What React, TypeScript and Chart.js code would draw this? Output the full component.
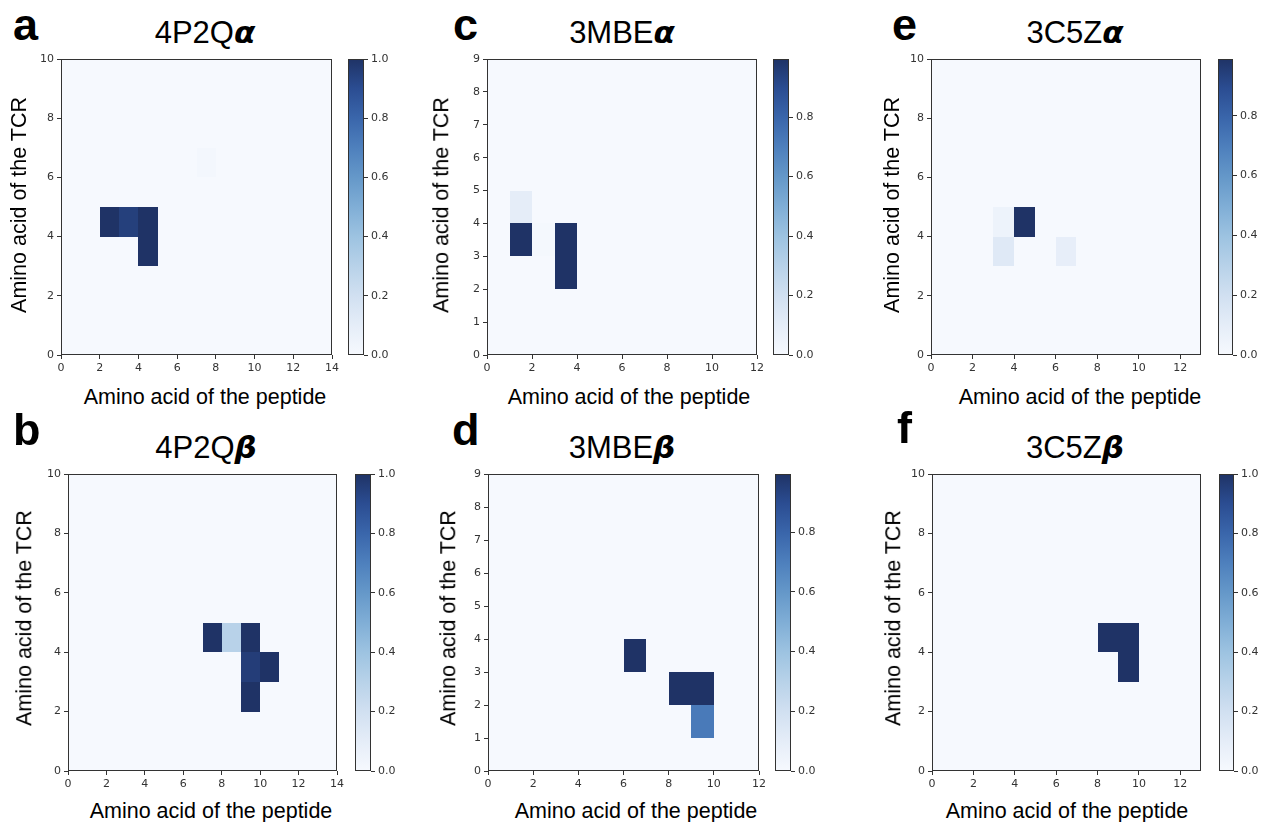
import React, { useEffect, useRef } from 'react';
import { Chart, registerables } from 'chart.js';

Chart.register(...registerables);

// Each cell: [peptide position, TCR position, contact weight]; every other cell is 0.
type Cell = [number, number, number];

const cells4P2QAlpha: Cell[] = [
  [2, 4, 1.0],
  [3, 4, 0.95],
  [4, 4, 1.0],
  [4, 3, 1.0],
  [7, 6, 0.015],
];
const cells4P2QBeta: Cell[] = [
  [7, 4, 1.0],
  [8, 4, 0.3],
  [9, 4, 1.0],
  [9, 3, 0.96],
  [10, 3, 1.0],
  [9, 2, 1.0],
];
const cells3MBEAlpha: Cell[] = [
  [1, 4, 0.1],
  [1, 3, 0.995],
  [2, 3, 0.01],
  [3, 3, 0.995],
  [3, 2, 0.995],
];
const cells3MBEBeta: Cell[] = [
  [6, 3, 0.995],
  [8, 2, 0.995],
  [9, 2, 0.995],
  [9, 1, 0.72],
];
const cells3C5ZAlpha: Cell[] = [
  [3, 4, 0.05],
  [4, 4, 0.99],
  [3, 3, 0.13],
  [6, 3, 0.09],
];
const cells3C5ZBeta: Cell[] = [
  [8, 4, 1.0],
  [9, 4, 1.0],
  [9, 3, 1.0],
];

// Peptide / TCR segment lengths (axis extents)
const peptideLen4P2Q = 14;
const tcrLen4P2Q = 10;
const peptideLen3MBE = 12;
const tcrLen3MBE = 9;
const peptideLen3C5Z = 13;
const tcrLen3C5Z = 10;

// Upper end of each colour bar (largest weight in the map)
const vmax4P2QAlpha = 1.0;
const vmax4P2QBeta = 1.0;
const vmax3MBEAlpha = 0.995;
const vmax3MBEBeta = 0.995;
const vmax3C5ZAlpha = 0.99;
const vmax3C5ZBeta = 1.0;

// Tick labels
const xTicksEven14 = [0, 2, 4, 6, 8, 10, 12, 14];
const xTicksEven12 = [0, 2, 4, 6, 8, 10, 12];
const yTicksEven10 = [0, 2, 4, 6, 8, 10];
const yTicksUnit9 = [0, 1, 2, 3, 4, 5, 6, 7, 8, 9];
const colorbarTicks = [0, 0.2, 0.4, 0.6, 0.8, 1.0];

const xAxisLabel = 'Amino acid of the peptide';
const yAxisLabel = 'Amino acid of the TCR';

// Sequential blue colour map
const CMAP: [number, string][] = [
  [0.0, '#f6f9fe'],
  [0.1, '#e5edf8'],
  [0.2, '#d1e0f1'],
  [0.3, '#b8d2e9'],
  [0.4, '#9dc3e1'],
  [0.5, '#80aed6'],
  [0.6, '#6598c9'],
  [0.7, '#4e80bd'],
  [0.8, '#3a66ab'],
  [0.9, '#2b4d92'],
  [1.0, '#1f3366'],
];

function hexToRgb(h: string): number[] {
  const n = parseInt(h.slice(1), 16);
  return [(n >> 16) & 255, (n >> 8) & 255, n & 255];
}

function cmap(t: number): string {
  const v = Math.max(0, Math.min(1, t));
  for (let i = 1; i < CMAP.length; i++) {
    const [p1, c1] = CMAP[i];
    const [p0, c0] = CMAP[i - 1];
    if (v <= p1) {
      const f = (v - p0) / (p1 - p0);
      const a = hexToRgb(c0);
      const b = hexToRgb(c1);
      const r = a.map((x, k) => Math.round(x + (b[k] - x) * f));
      return `rgb(${r[0]},${r[1]},${r[2]})`;
    }
  }
  return CMAP[CMAP.length - 1][1];
}

const AXIS_COLOR = '#333333';
const TICK_FONT = { family: 'DejaVu Sans', size: 11 };
const LABEL_FONT = '"Liberation Sans", Arial, Helvetica, sans-serif';

type Box = { l: number; t: number; r: number; b: number };

type PanelSpec = {
  letter: string;
  name: string;
  greek: string;
  cells: Cell[];
  nx: number;
  ny: number;
  xTicks: number[];
  yTicks: number[];
  vmax: number;
  plot: Box;
  cb: { l: number; r: number };
  letterPos: { x: number; base: number };
  titlePos: { cx: number; base: number };
  xLabelPos: { cx: number; base: number };
  yLabelPos: { cx: number; cy: number };
};

const PANELS: PanelSpec[] = [
  {
    letter: 'a', name: '4P2Q', greek: 'α', cells: cells4P2QAlpha,
    nx: peptideLen4P2Q, ny: tcrLen4P2Q, xTicks: xTicksEven14, yTicks: yTicksEven10, vmax: vmax4P2QAlpha,
    plot: { l: 61, t: 59, r: 332, b: 355 }, cb: { l: 348, r: 364 },
    letterPos: { x: 13, base: 40 }, titlePos: { cx: 205, base: 43 },
    xLabelPos: { cx: 205, base: 405 }, yLabelPos: { cx: 20, cy: 205 },
  },
  {
    letter: 'b', name: '4P2Q', greek: 'β', cells: cells4P2QBeta,
    nx: peptideLen4P2Q, ny: tcrLen4P2Q, xTicks: xTicksEven14, yTicks: yTicksEven10, vmax: vmax4P2QBeta,
    plot: { l: 68, t: 474, r: 337, b: 771 }, cb: { l: 355, r: 371 },
    letterPos: { x: 13, base: 445 }, titlePos: { cx: 206, base: 458 },
    xLabelPos: { cx: 211, base: 819 }, yLabelPos: { cx: 25, cy: 618 },
  },
  {
    letter: 'c', name: '3MBE', greek: 'α', cells: cells3MBEAlpha,
    nx: peptideLen3MBE, ny: tcrLen3MBE, xTicks: xTicksEven12, yTicks: yTicksUnit9, vmax: vmax3MBEAlpha,
    plot: { l: 487, t: 59, r: 757, b: 355 }, cb: { l: 773, r: 789 },
    letterPos: { x: 453, base: 40 }, titlePos: { cx: 622, base: 43 },
    xLabelPos: { cx: 629, base: 405 }, yLabelPos: { cx: 442, cy: 205 },
  },
  {
    letter: 'd', name: '3MBE', greek: 'β', cells: cells3MBEBeta,
    nx: peptideLen3MBE, ny: tcrLen3MBE, xTicks: xTicksEven12, yTicks: yTicksUnit9, vmax: vmax3MBEBeta,
    plot: { l: 488, t: 474, r: 759, b: 771 }, cb: { l: 775, r: 791 },
    letterPos: { x: 452, base: 445 }, titlePos: { cx: 622, base: 458 },
    xLabelPos: { cx: 636, base: 819 }, yLabelPos: { cx: 449, cy: 618 },
  },
  {
    letter: 'e', name: '3C5Z', greek: 'α', cells: cells3C5ZAlpha,
    nx: peptideLen3C5Z, ny: tcrLen3C5Z, xTicks: xTicksEven12, yTicks: yTicksEven10, vmax: vmax3C5ZAlpha,
    plot: { l: 931, t: 59, r: 1201, b: 355 }, cb: { l: 1218, r: 1233 },
    letterPos: { x: 892, base: 40 }, titlePos: { cx: 1075, base: 43 },
    xLabelPos: { cx: 1080, base: 405 }, yLabelPos: { cx: 893, cy: 205 },
  },
  {
    letter: 'f', name: '3C5Z', greek: 'β', cells: cells3C5ZBeta,
    nx: peptideLen3C5Z, ny: tcrLen3C5Z, xTicks: xTicksEven12, yTicks: yTicksEven10, vmax: vmax3C5ZBeta,
    plot: { l: 932, t: 474, r: 1201, b: 771 }, cb: { l: 1219, r: 1234 },
    letterPos: { x: 897, base: 443 }, titlePos: { cx: 1075, base: 458 },
    xLabelPos: { cx: 1067, base: 819 }, yLabelPos: { cx: 894, cy: 618 },
  },
];

// margins of the heat-map canvas around its plot area
const ML = 45, MT = 12, MR = 14, MB = 28;
// colour-bar canvas margins
const CB_MV = 12, CB_MR = 40;

function frame(ctx: CanvasRenderingContext2D, a: { left: number; top: number; right: number; bottom: number }) {
  ctx.save();
  ctx.strokeStyle = AXIS_COLOR;
  ctx.lineWidth = 1;
  const l = Math.round(a.left) + 0.5;
  const t = Math.round(a.top) + 0.5;
  const r = Math.round(a.right) - 0.5;
  const b = Math.round(a.bottom) - 0.5;
  ctx.strokeRect(l, t, r - l, b - t);
  ctx.restore();
}

function tickAxis(ticks: number[], fmt: (v: number) => string) {
  return {
    afterBuildTicks: (s: any) => {
      s.ticks = ticks.filter((v) => v >= s.min - 1e-9 && v <= s.max + 1e-9).map((value) => ({ value }));
    },
    grid: { drawOnChartArea: false, drawTicks: true, tickLength: 4, tickColor: AXIS_COLOR, tickWidth: 1 },
    border: { display: false },
    ticks: {
      font: TICK_FONT,
      color: AXIS_COLOR,
      padding: 3,
      autoSkip: false,
      maxRotation: 0,
      minRotation: 0,
      callback: (v: any) => fmt(Number(v)),
    },
  };
}

function HeatMap({ p }: { p: PanelSpec }) {
  const ref = useRef<HTMLCanvasElement>(null);
  const w = p.plot.r - p.plot.l + ML + MR;
  const h = p.plot.b - p.plot.t + MT + MB;

  useEffect(() => {
    if (!ref.current) return;
    const lookup = new Map<string, number>();
    p.cells.forEach(([x, y, v]) => lookup.set(`${x},${y}`, v));

    const cellPlugin = {
      id: 'heatCells',
      beforeDatasetsDraw(chart: any) {
        const { ctx, scales } = chart;
        const xs = scales.x;
        const ys = scales.y;
        ctx.save();
        for (let i = 0; i < p.nx; i++) {
          for (let j = 0; j < p.ny; j++) {
            const v = lookup.get(`${i},${j}`) ?? 0;
            const x0 = Math.round(xs.getPixelForValue(i));
            const x1 = Math.round(xs.getPixelForValue(i + 1));
            const y0 = Math.round(ys.getPixelForValue(j + 1));
            const y1 = Math.round(ys.getPixelForValue(j));
            ctx.fillStyle = cmap(v / p.vmax);
            ctx.fillRect(x0, y0, x1 - x0, y1 - y0);
          }
        }
        ctx.restore();
      },
      afterDatasetsDraw(chart: any) {
        frame(chart.ctx, chart.chartArea);
      },
    };

    const chart = new Chart(ref.current, {
      type: 'scatter',
      data: {
        datasets: [
          {
            label: `${p.name}${p.greek}`,
            data: p.cells.map(([x, y, v]) => ({ x: x + 0.5, y: y + 0.5, v })),
            pointRadius: 0,
            pointHoverRadius: 0,
          },
        ],
      },
      options: {
        animation: false,
        responsive: false,
        devicePixelRatio: 1,
        events: [],
        layout: { padding: { left: 0, top: MT, right: MR, bottom: 0 } },
        plugins: { legend: { display: false }, tooltip: { enabled: false }, title: { display: false } },
        scales: {
          x: {
            type: 'linear',
            min: 0,
            max: p.nx,
            ...tickAxis(p.xTicks, (v) => String(v)),
            afterFit: (s: any) => { s.height = MB; },
          },
          y: {
            type: 'linear',
            min: 0,
            max: p.ny,
            ...tickAxis(p.yTicks, (v) => String(v)),
            afterFit: (s: any) => { s.width = ML; },
          },
        },
      } as any,
      plugins: [cellPlugin],
    });
    return () => chart.destroy();
  }, [p]);

  return (
    <canvas
      ref={ref}
      width={w}
      height={h}
      style={{ position: 'absolute', left: p.plot.l - ML, top: p.plot.t - MT, width: w, height: h }}
    />
  );
}

function ColorBar({ p }: { p: PanelSpec }) {
  const ref = useRef<HTMLCanvasElement>(null);
  const w = p.cb.r - p.cb.l + CB_MR;
  const h = p.plot.b - p.plot.t + 2 * CB_MV;

  useEffect(() => {
    if (!ref.current) return;
    const barPlugin = {
      id: 'colorBar',
      beforeDatasetsDraw(chart: any) {
        const { ctx, chartArea } = chart;
        const ys = chart.scales.y;
        const yBottom = ys.getPixelForValue(0);
        const yTop = ys.getPixelForValue(p.vmax);
        const g = ctx.createLinearGradient(0, yBottom, 0, yTop);
        CMAP.forEach(([pos, col]) => g.addColorStop(pos, col));
        ctx.save();
        ctx.fillStyle = g;
        ctx.fillRect(chartArea.left, yTop, chartArea.right - chartArea.left, yBottom - yTop);
        ctx.restore();
      },
      afterDatasetsDraw(chart: any) {
        frame(chart.ctx, chart.chartArea);
      },
    };

    const chart = new Chart(ref.current, {
      type: 'scatter',
      data: { datasets: [{ label: 'scale', data: [], pointRadius: 0 }] },
      options: {
        animation: false,
        responsive: false,
        devicePixelRatio: 1,
        events: [],
        layout: { padding: { left: 0, top: CB_MV, right: 0, bottom: CB_MV } },
        plugins: { legend: { display: false }, tooltip: { enabled: false } },
        scales: {
          x: { type: 'linear', display: false, min: 0, max: 1 },
          y: {
            type: 'linear',
            position: 'right',
            min: 0,
            max: p.vmax,
            ...tickAxis(colorbarTicks, (v) => v.toFixed(1)),
            afterFit: (s: any) => { s.width = CB_MR; },
          },
        },
      } as any,
      plugins: [barPlugin],
    });
    return () => chart.destroy();
  }, [p]);

  return (
    <canvas
      ref={ref}
      width={w}
      height={h}
      style={{ position: 'absolute', left: p.cb.l, top: p.plot.t - CB_MV, width: w, height: h }}
    />
  );
}

const LETTER_SIZE = 45;
const TITLE_SIZE = 31;
const AXIS_LABEL_SIZE = 21.5;
const ASCENT = 0.8465; // baseline offset inside a line-height:1 box

function Panel({ p }: { p: PanelSpec }) {
  return (
    <>
      <div
        style={{
          position: 'absolute', left: p.letterPos.x, top: p.letterPos.base - ASCENT * LETTER_SIZE,
          fontFamily: LABEL_FONT, fontWeight: 'bold', fontSize: LETTER_SIZE, lineHeight: 1, color: '#000',
        }}
      >
        {p.letter}
      </div>
      <div
        style={{
          position: 'absolute', left: p.titlePos.cx, top: p.titlePos.base - ASCENT * TITLE_SIZE,
          transform: 'translateX(-50%)', whiteSpace: 'nowrap',
          fontFamily: LABEL_FONT, fontSize: TITLE_SIZE, lineHeight: 1, color: '#000',
        }}
      >
        {p.name}
        <span style={{ fontFamily: '"DejaVu Sans", sans-serif', fontWeight: 'bold', fontStyle: 'italic' }}>{p.greek}</span>
      </div>
      <HeatMap p={p} />
      <ColorBar p={p} />
      <div
        style={{
          position: 'absolute', left: p.xLabelPos.cx, top: p.xLabelPos.base - ASCENT * AXIS_LABEL_SIZE,
          transform: 'translateX(-50%)', whiteSpace: 'nowrap',
          fontFamily: LABEL_FONT, fontSize: AXIS_LABEL_SIZE, lineHeight: 1, color: '#000',
        }}
      >
        {xAxisLabel}
      </div>
      <div
        style={{
          position: 'absolute', left: p.yLabelPos.cx, top: p.yLabelPos.cy,
          transform: 'translate(-50%, -50%) rotate(-90deg)', whiteSpace: 'nowrap',
          fontFamily: LABEL_FONT, fontSize: AXIS_LABEL_SIZE, lineHeight: 1, color: '#000',
        }}
      >
        {yAxisLabel}
      </div>
    </>
  );
}

export default function App() {
  return (
    <div
      style={{
        position: 'absolute', left: 0, top: 0, width: 1263, height: 822,
        background: '#ffffff', overflow: 'hidden',
      }}
    >
      {PANELS.map((p) => (
        <Panel key={p.letter} p={p} />
      ))}
    </div>
  );
}
